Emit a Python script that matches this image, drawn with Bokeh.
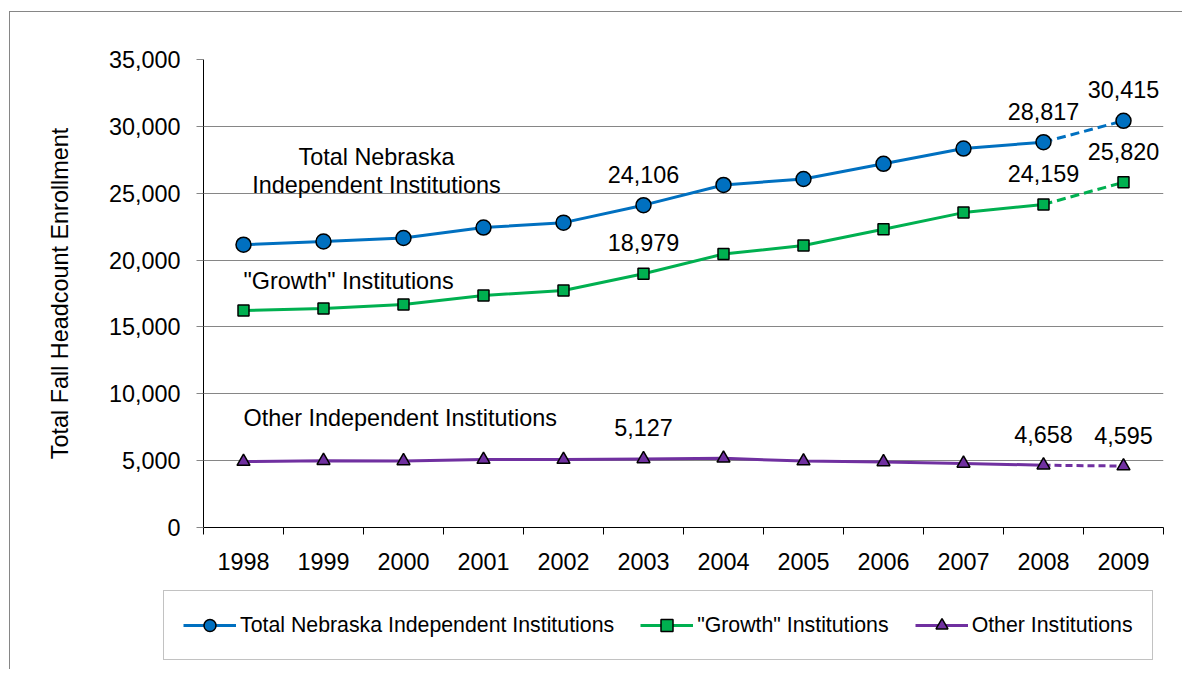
from bokeh.plotting import figure
from bokeh.models import (Range1d, FixedTicker, NumeralTickFormatter, Legend, LegendItem,
                          Label, LinearAxis, Grid, ColumnDataSource)
from bokeh.embed import file_html
from bokeh.resources import INLINE
from bokeh.core.properties import value

# ---------------- data ----------------
years = ["1998", "1999", "2000", "2001", "2002", "2003",
         "2004", "2005", "2006", "2007", "2008", "2009"]
total = [21150, 21390, 21650, 22430, 22800, 24106, 25620, 26060, 27200, 28340, 28817, 30415]
growth = [16230, 16380, 16680, 17350, 17720, 18979, 20450, 21090, 22300, 23550, 24159, 25820]
other = [4930, 5000, 4980, 5080, 5080, 5127, 5170, 4970, 4900, 4790, 4658, 4595]
labeled_years = ["2003", "2008", "2009"]
projected_from = "2008"
y_ticks = [0, 5000, 10000, 15000, 20000, 25000, 30000, 35000]
series_names = ["Total Nebraska Independent Institutions", "\"Growth\" Institutions", "Other Institutions"]

FONT = "Liberation Sans"
FS = "23.4px"
GRID = "#868686"

n = len(years)
xs = [i + 0.5 for i in range(n)]
k = years.index(projected_from)
lab_idx = [years.index(y) for y in labeled_years]

W = 1173
p = figure(width=W, height=568, x_range=Range1d(0, n), y_range=Range1d(0, 35000),
           output_backend="svg", toolbar_location=None,
           x_axis_type=None, y_axis_type=None,
           min_border_left=193, min_border_right=20, min_border_top=47, min_border_bottom=53,
           styles={"border-left": "1px solid #868686", "border-top": "1px solid #868686",
                   "margin-left": "9px", "margin-top": "11px"})
p.outline_line_color = None
p.background_fill_color = "white"
p.border_fill_color = "white"

# y axis
yaxis = LinearAxis(ticker=FixedTicker(ticks=y_ticks, minor_ticks=[]),
                   formatter=NumeralTickFormatter(format="0,0"))
yaxis.axis_label = "Total Fall Headcount Enrollment"
yaxis.axis_label_text_font = FONT
yaxis.axis_label_text_font_size = FS
yaxis.axis_label_text_font_style = "normal"
yaxis.axis_label_text_color = "black"
yaxis.axis_label_standoff = 33
yaxis.major_label_text_font = FONT
yaxis.major_label_text_font_size = FS
yaxis.major_label_text_color = "black"
yaxis.major_label_standoff = 16
yaxis.axis_line_color = "black"
yaxis.major_tick_line_color = GRID
yaxis.major_tick_out = 7
yaxis.major_tick_in = 0
yaxis.minor_tick_line_color = None
p.add_layout(yaxis, "left")

# x axis: labels at category centers, ticks at category boundaries
xaxis = LinearAxis(ticker=FixedTicker(ticks=xs, minor_ticks=list(range(n + 1))),
                   major_label_overrides={x: y for x, y in zip(xs, years)})
xaxis.major_label_text_font = FONT
xaxis.major_label_text_font_size = FS
xaxis.major_label_text_color = "black"
xaxis.major_label_standoff = 18
xaxis.axis_line_color = "black"
xaxis.major_tick_line_color = None
xaxis.major_tick_out = 7
xaxis.major_tick_in = 0
xaxis.minor_tick_line_color = "black"
xaxis.minor_tick_out = 7
xaxis.minor_tick_in = 0
p.add_layout(xaxis, "below")

p.add_layout(Grid(dimension=1, ticker=yaxis.ticker, grid_line_color=GRID, grid_line_width=1))

# legend strip (its own figure; its data renderers sit outside its view)
pl = figure(width=W, height=90, x_range=Range1d(-100, -99), y_range=Range1d(-100, -99),
            output_backend="svg", toolbar_location=None, x_axis_type=None, y_axis_type=None,
            min_border_left=0, min_border_right=0, min_border_top=0, min_border_bottom=0,
            styles={"border-left": "1px solid #868686", "margin-left": "9px"})
pl.outline_line_color = None
pl.background_fill_color = "white"
pl.border_fill_color = "white"

# series
specs = [
    (total, "#0070C0", "circle", 15, "9 5"),
    (growth, "#00B050", "square", 11, "9 5"),
    (other, "#7030A0", "triangle", 13, "7 4"),
]
items = []
for name, (vals, color, marker, size, dash) in zip(series_names, specs):
    p.line(xs[:k + 1], vals[:k + 1], line_color=color, line_width=3)
    p.line(xs[k:], vals[k:], line_color=color, line_width=3, line_dash=dash)
    p.scatter(xs, vals, marker=marker, size=size, fill_color=color,
              line_color="black", line_width=1.5)
    src = ColumnDataSource(dict(x=[xs[i] for i in lab_idx], y=[vals[i] for i in lab_idx],
                                t=[f"{vals[i]:,}" for i in lab_idx]))
    p.text(x="x", y="y", text="t", source=src, text_font=value(FONT), text_font_size=FS,
           text_align="center", text_baseline="middle", y_offset=-31, text_color="black")
    l2 = pl.line(xs, vals, line_color=color, line_width=3)
    s2 = pl.scatter(xs, vals, marker=marker, size=size, fill_color=color,
                    line_color="black", line_width=1.5)
    items.append(LegendItem(label=name, renderers=[l2, s2]))

# in-chart annotations
ann = [
    (2.1625, 27671, "Total Nebraska", "center"),
    (2.1625, 25577, "Independent Institutions", "center"),
    (0.5, 18472, "\"Growth\" Institutions", "left"),
    (0.5, 8152, "Other Independent Institutions", "left"),
]
for x, y, t, al in ann:
    p.add_layout(Label(x=x, y=y, text=t, text_align=al, text_baseline="middle",
                       text_font=FONT, text_font_size=FS, text_color="black"))

legend = Legend(items=items, orientation="horizontal", location=(153, 9),
                glyph_width=53, glyph_height=30, label_standoff=4, spacing=26,
                padding=19, margin=0, label_text_font=FONT, label_text_font_size="21.3px",
                label_text_color="black", border_line_color=GRID, border_line_width=1,
                background_fill_color="white", background_fill_alpha=1)
pl.add_layout(legend, "center")

open("out.html", "w").write(file_html([p, pl], INLINE))
